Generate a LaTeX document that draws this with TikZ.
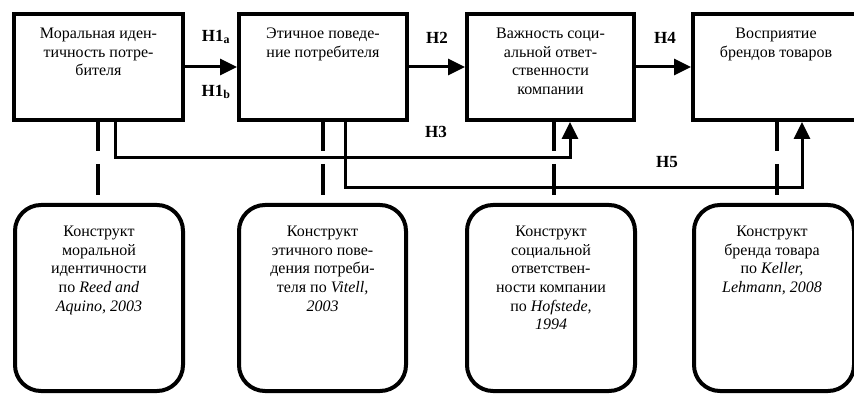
\documentclass[tikz,border=0pt]{standalone}
\usepackage{fontspec}
\setmainfont{Liberation Serif}
\usetikzlibrary{arrows.meta,calc}
\begin{document}
\begin{tikzpicture}[x=1pt,y=-1pt,
  topbox/.style={draw,line width=4pt,minimum height=106pt,inner sep=0pt},
  botbox/.style={draw,line width=4pt,rounded corners=26pt,minimum height=186pt,inner sep=0pt},
  txt/.style={align=center,font=\fontsize{16}{18.6}\selectfont,inner sep=0pt,anchor=north},
  hyp/.style={font=\fontsize{17}{18}\selectfont\bfseries,inner sep=0pt},
  conn/.style={line width=3pt,-{Triangle[length=17pt,width=16pt]}},
  dsh/.style={line width=3.5pt,dash pattern=on 31pt off 13pt}]
\clip (0,0) rectangle (854,395);
\useasboundingbox (0,0) rectangle (854,395);
% top boxes
\node[topbox,minimum width=169pt] (b1) at (98.5,67) {};
\node[topbox,minimum width=168pt] (b2) at (323,67) {};
\node[topbox,minimum width=167pt] (b3) at (550.5,67) {};
\node[topbox,minimum width=177pt] (b4) at (781.5,67) {};
\node[txt] (t1) at (98.5,28) {Моральная иден-\\тичность потре-\\бителя};
\node[txt] (t2) at (323,28) {Этичное поведе-\\ние потребителя};
\node[txt] (t3) at (550.5,28) {Важность соци-\\альной ответ-\\ственности\\компании};
\node[txt] (t4) at (776,28) {Восприятие\\брендов товаров};
% bottom boxes
\node[botbox,minimum width=168pt] (c1) at (99,298) {};
\node[botbox,minimum width=167pt] (c2) at (322.5,298) {};
\node[botbox,minimum width=168pt] (c3) at (551,298) {};
\node[botbox,minimum width=160pt] (c4) at (774,298) {};
\node[txt] (d1) at (99,226) {Конструкт\\моральной\\идентичности\\по \textit{Reed and}\\\textit{Aquino, 2003}};
\node[txt] (d2) at (322.5,226) {Конструкт\\этичного пове-\\дения потреби-\\теля по \textit{Vitell,}\\\textit{2003}};
\node[txt] (d3) at (551,226) {Конструкт\\социальной\\ответствен-\\ности компании\\по \textit{Hofstede,}\\\textit{1994}};
\node[txt] (d4) at (772,226) {Конструкт\\бренда товара\\по \textit{Keller,}\\\textit{Lehmann, 2008}};
% hypothesis labels
\node[hyp] (h1a) at (216,37) {H1\textsubscript{a}};
\node[hyp] (h1b) at (216,92) {H1\textsubscript{b}};
\node[hyp] (h2) at (437,38) {H2};
\node[hyp] (h4) at (665,38) {H4};
\node[hyp] (h3) at (436,132) {H3};
\node[hyp] (h5) at (667,162) {H5};
% horizontal arrows
\draw[conn] (b1.east) -- (b2.west);
\draw[conn] (b2.east) -- (b3.west);
\draw[conn] (b3.east) -- (b4.west);
% dashed links
\coordinate (u1) at (98,120); \coordinate (v1) at (98,205);
\coordinate (u2) at (323,120); \coordinate (v2) at (323,205);
\coordinate (u3) at (554,120); \coordinate (v3) at (554,205);
\coordinate (u4) at (777,120); \coordinate (v4) at (777,205);
\draw[dsh] (u1) -- (v1);
\draw[dsh] (u2) -- (v2);
\draw[dsh] (u3) -- (v3);
\draw[dsh] (u4) -- (v4);
% H3 and H5 connectors
\coordinate (s3) at (115,120); \coordinate (e3) at (570,122);
\coordinate (s5) at (345,120); \coordinate (e5) at (802,122);
\draw[conn] (s3) -- (115,158) -| (e3);
\draw[conn] (s5) -- (345,188) -| (e5);
\end{tikzpicture}
\end{document}
